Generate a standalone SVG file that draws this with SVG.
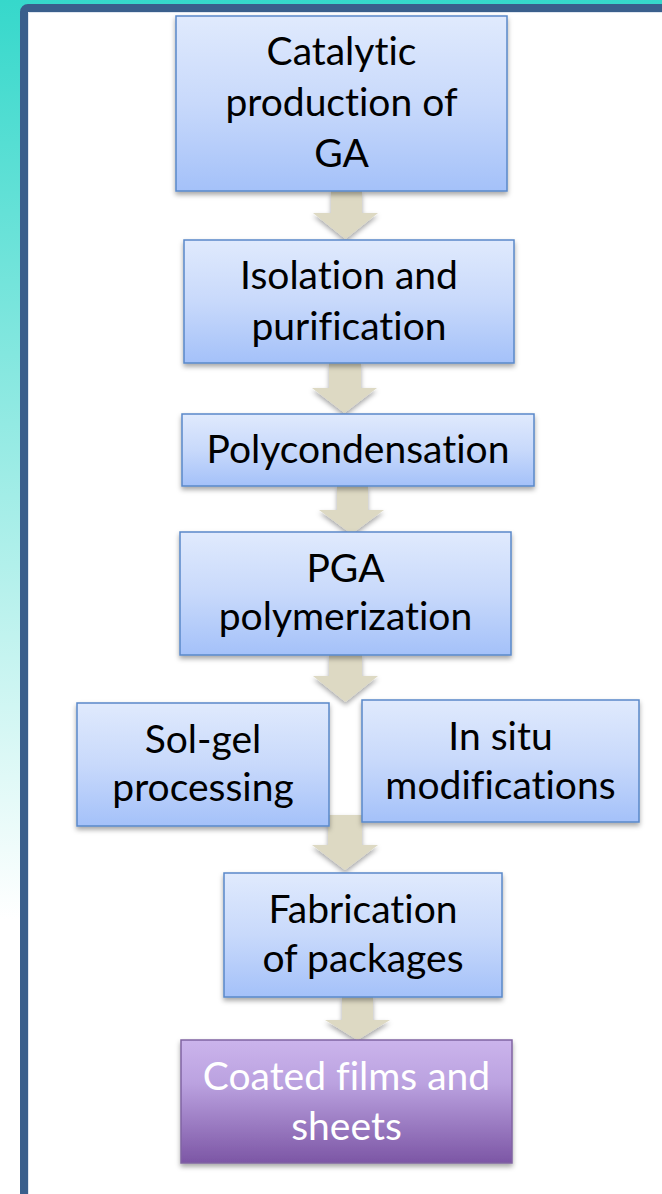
<svg xmlns="http://www.w3.org/2000/svg" width="662" height="1194" viewBox="0 0 662 1194">
<defs>
<linearGradient id="bg" x1="0" y1="0" x2="0" y2="1194" gradientUnits="userSpaceOnUse">
<stop offset="0" stop-color="#36d8cb"/>
<stop offset="0.77" stop-color="#ffffff"/>
<stop offset="1" stop-color="#ffffff"/>
</linearGradient>
<linearGradient id="blue" x1="0" y1="0" x2="0" y2="1">
<stop offset="0" stop-color="#e0eafd"/>
<stop offset="0.5" stop-color="#c8d9fb"/>
<stop offset="1" stop-color="#a4c1f9"/>
</linearGradient>
<linearGradient id="purple" x1="0" y1="0" x2="0" y2="1">
<stop offset="0" stop-color="#cbb4ec"/>
<stop offset="0.35" stop-color="#bba2e0"/>
<stop offset="1" stop-color="#7c56a5"/>
</linearGradient>
<filter id="sh" x="-10%" y="-10%" width="120%" height="130%">
<feDropShadow dx="0" dy="3" stdDeviation="2.5" flood-color="#000" flood-opacity="0.35"/>
</filter>
<style>
.box{fill:url(#blue);stroke:#5a88c9;stroke-width:1.5;filter:url(#sh)}
.pbox{fill:url(#purple);stroke:#8064a2;stroke-width:1.5;filter:url(#sh)}
.arr{fill:#ddd9c3;filter:url(#sh)}
.t,.tw{font-family:Lato,"Liberation Sans",sans-serif;font-size:39px;text-anchor:middle;font-variant-ligatures:none;font-feature-settings:"liga" 0,"dlig" 0}
.t{fill:#000}
.tw{fill:#ffffff}
</style>
</defs>
<rect x="0" y="0" width="662" height="1194" fill="url(#bg)"/>
<rect x="24" y="8" width="660" height="1200" rx="4" fill="#ffffff" stroke="#3a5f8c" stroke-width="8"/>
<path d="M28.5 1194 V12.5 H662" fill="none" stroke="#dfe6f0" stroke-width="1"/>
<g id="connectors">
<polygon class="arr" points="331,191 362,191 362,213 378,213 345.5,239 313,213 331,213"/>
<polygon class="arr" points="329,363 361,363 361,388 377,388 344.5,413 312,388 329,388"/>
<polygon class="arr" points="337,486 368,486 368,510 384,510 351.5,534 319,510 337,510"/>
<polygon class="arr" points="329,655 362,655 362,676 378,676 345.5,702 313,676 329,676"/>
<polygon class="arr" points="328,815 362,815 362,845 378,845 345,870 312,845 328,845"/>
<polygon class="arr" points="342,997 373,997 373,1020 390,1020 357.5,1040 325,1020 342,1020"/>
</g>
<g id="n1">
<rect class="box" x="176" y="16" width="331" height="175"/>
<text class="t" x="341.5" y="65">Catalytic</text>
<text class="t" x="341.5" y="116">production of</text>
<text class="t" x="341.5" y="167">GA</text>
</g>
<g id="n2">
<rect class="box" x="184" y="240" width="330" height="123"/>
<text class="t" x="349" y="289">Isolation and</text>
<text class="t" x="349" y="340">purification</text>
</g>
<g id="n3">
<rect class="box" x="182" y="414" width="352" height="72"/>
<text class="t" x="358" y="463">Polycondensation</text>
</g>
<g id="n4">
<rect class="box" x="180" y="532" width="331" height="123"/>
<text class="t" x="345.5" y="582">PGA</text>
<text class="t" x="345.5" y="630">polymerization</text>
</g>
<g id="n5">
<rect class="box" x="77" y="703" width="252" height="123"/>
<text class="t" x="203" y="753">Sol-gel</text>
<text class="t" x="203" y="801">processing</text>
</g>
<g id="n6">
<rect class="box" x="362" y="700" width="277" height="122"/>
<text class="t" x="500.5" y="750">In situ</text>
<text class="t" x="500.5" y="799">modifications</text>
</g>
<g id="n7">
<rect class="box" x="224" y="873" width="278" height="124"/>
<text class="t" x="363" y="923">Fabrication</text>
<text class="t" x="363" y="972">of packages</text>
</g>
<g id="n8">
<rect class="pbox" x="181" y="1040" width="331" height="123"/>
<text class="tw" x="346.5" y="1090">Coated films and</text>
<text class="tw" x="346.5" y="1140">sheets</text>
</g>
</svg>
